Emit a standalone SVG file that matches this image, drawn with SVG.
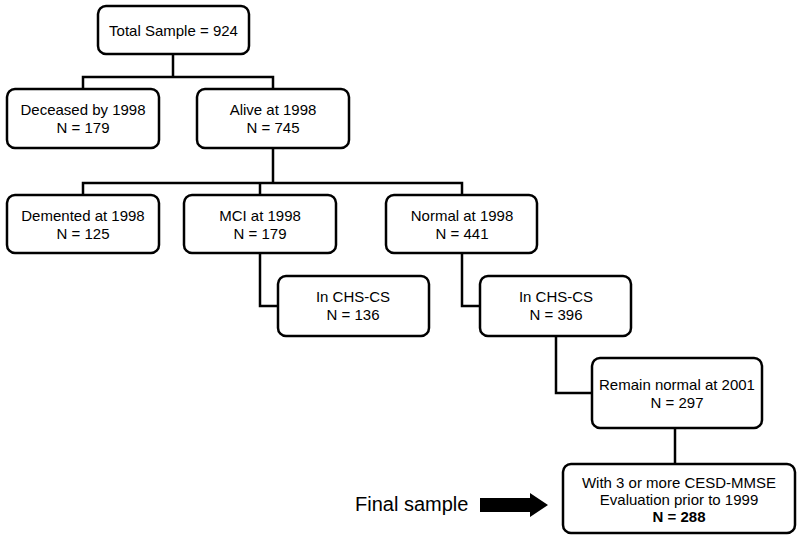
<svg xmlns="http://www.w3.org/2000/svg" width="800" height="541" viewBox="0 0 800 541">
<style>
.box{fill:#fff;stroke:#000;stroke-width:2.5}
.t{font-family:"Liberation Sans",Arial,sans-serif;font-size:15px;text-anchor:middle;fill:#000}
.b{font-weight:bold}
.c{fill:none;stroke:#000;stroke-width:2.5}
</style>
<rect width="800" height="541" fill="#fff"/>
<g id="connectors">
<path class="c" d="M173,54 V77 M83,89 V77 H273 V89"/>
<path class="c" d="M273,148 V183 M83,195 V183 H462 V195 M260,183 V195"/>
<path class="c" d="M260,253 V306 H278"/>
<path class="c" d="M462,253 V306 H480"/>
<path class="c" d="M556,336 V393 H592"/>
<path class="c" d="M675,428 V464"/>
</g>
<g id="n_total"><rect class="box" x="98" y="6" width="151" height="48" rx="8"/><text class="t" x="173.5" y="36">Total Sample = 924</text></g>
<g id="n_deceased"><rect class="box" x="7" y="89" width="152" height="59" rx="8"/><text class="t" x="83" y="115">Deceased by 1998</text><text class="t" x="83" y="133">N = 179</text></g>
<g id="n_alive"><rect class="box" x="197" y="89" width="152" height="59" rx="8"/><text class="t" x="273" y="115">Alive at 1998</text><text class="t" x="273" y="133">N = 745</text></g>
<g id="n_demented"><rect class="box" x="7" y="195" width="152" height="58" rx="8"/><text class="t" x="83" y="221">Demented at 1998</text><text class="t" x="83" y="239">N = 125</text></g>
<g id="n_mci"><rect class="box" x="184" y="195" width="152" height="58" rx="8"/><text class="t" x="260" y="221">MCI at 1998</text><text class="t" x="260" y="239">N = 179</text></g>
<g id="n_normal"><rect class="box" x="386" y="195" width="151" height="58" rx="8"/><text class="t" x="462" y="221">Normal at 1998</text><text class="t" x="462" y="239">N = 441</text></g>
<g id="n_chs136"><rect class="box" x="278" y="276" width="151" height="60" rx="8"/><text class="t" x="353" y="302">In CHS-CS</text><text class="t" x="353" y="320">N = 136</text></g>
<g id="n_chs396"><rect class="box" x="480" y="276" width="151" height="60" rx="8"/><text class="t" x="556" y="302">In CHS-CS</text><text class="t" x="556" y="320">N = 396</text></g>
<g id="n_remain"><rect class="box" x="592" y="358" width="170" height="70" rx="8"/><text class="t" x="677" y="390">Remain normal at 2001</text><text class="t" x="677" y="408">N = 297</text></g>
<g id="n_final"><rect class="box" x="563" y="464" width="232" height="69" rx="8"/><text class="t" x="679" y="488">With 3 or more CESD-MMSE</text><text class="t" x="679" y="505">Evaluation prior to 1999</text><text class="t b" x="679" y="522">N = 288</text></g>
<g id="final_label"><text x="355" y="511" style="font-family:'Liberation Sans',Arial,sans-serif;font-size:20px;fill:#000">Final sample</text><polygon points="480,498 530,498 530,493 548,505 530,517 530,512 480,512" fill="#000"/></g>
</svg>
